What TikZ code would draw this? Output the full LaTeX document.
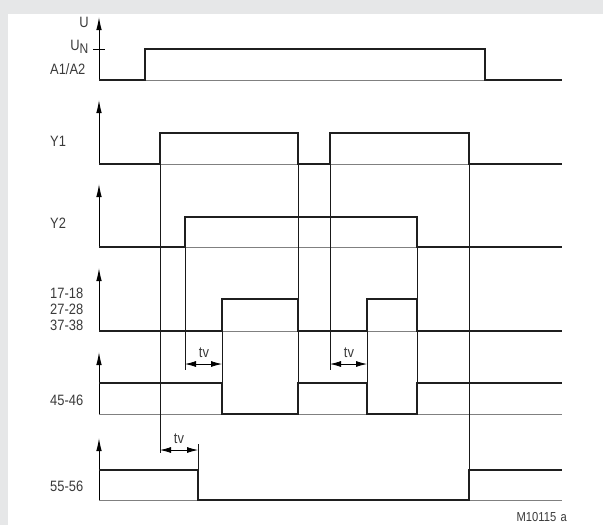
\documentclass[tikz,border=0pt]{standalone}
\usepackage{fontspec}
\setmainfont{Liberation Sans}[FakeStretch=0.86]
\usetikzlibrary{arrows.meta}
\definecolor{bg}{HTML}{E6E7E8}
\definecolor{txt}{HTML}{3A3A3A}
\begin{document}
\begin{tikzpicture}[x=1pt,y=-1pt,
  sig/.style={line width=1.9pt, draw=black!88, line join=miter},
  base/.style={line width=0.9pt, draw=black!50},
  guide/.style={line width=0.8pt, draw=black!90},
  axis/.style={line width=1pt, -{Latex[length=13pt,width=5.5pt]}},
  dimarrow/.style={line width=0.8pt, {Latex[length=11pt,width=6pt]}-{Latex[length=11pt,width=6pt]}},
  lab/.style={font=\fontsize{15}{16}\selectfont, text=txt, inner sep=0pt, anchor=base west},
  tvlab/.style={font=\fontsize{15}{16}\selectfont, text=txt, inner sep=0pt, anchor=base}]
\useasboundingbox (0,0) rectangle (603,525);
\fill[bg] (0,0) rectangle (603,525);
\fill[white] (8,14) rectangle (603,525);

% axes and baselines
\foreach \t/\b in {17/80, 100/164, 184/247, 268/331, 352/414, 438/500}{
  \draw[base] (99,\b) -- (562,\b);
  \draw[axis] (99,\b) coordinate (ax\b) -- (99,\t);
}
\draw[line width=0.8pt] (93,49) -- (105,49);

% guide lines
\draw[guide] (160,133) -- (160,453);
\draw[guide] (185,217) -- (185,370);
\draw[guide] (298,133) -- (298,414);
\draw[guide] (330,133) -- (330,370);
\draw[guide] (222,299) -- (222,414);
\draw[guide] (367,299) -- (367,414);
\draw[guide] (417,217) -- (417,414);
\draw[guide] (469,133) -- (469,500);
\draw[guide] (198,444) -- (198,470);

% signals
\draw[sig] (99,80) -- (145,80) -- (145,49) -- (485,49) -- (485,80) -- (562,80);
\draw[sig] (99,164) -- (160,164) -- (160,133) -- (298,133) -- (298,164) -- (330,164) -- (330,133) -- (469,133) -- (469,164) -- (562,164);
\draw[sig] (99,247) -- (185,247) -- (185,217) -- (417,217) -- (417,247) -- (562,247);
\draw[sig] (99,331) -- (222,331) -- (222,299) -- (298,299) -- (298,331) -- (367,331) -- (367,299) -- (417,299) -- (417,331) -- (562,331);
\draw[sig] (99,383) -- (222,383) -- (222,414) -- (298,414) -- (298,383) -- (367,383) -- (367,414) -- (417,414) -- (417,383) -- (562,383);
\draw[sig] (99,470) -- (198,470) -- (198,500) -- (469,500) -- (469,470) -- (562,470);

% tv dimensions
\coordinate (d1a) at (185,364); \coordinate (d1b) at (222,364);
\coordinate (d2a) at (330,364); \coordinate (d2b) at (367,364);
\coordinate (d3a) at (160,450); \coordinate (d3b) at (198,450);
\draw[dimarrow] (d1a) -- (d1b);
\draw[dimarrow] (d2a) -- (d2b);
\draw[dimarrow] (d3a) -- (d3b);
\node[tvlab] (tv1) at (204,357) {tv};
\node[tvlab] (tv2) at (349,357) {tv};
\node[tvlab] (tv3) at (179,443) {tv};

% labels
\node[lab, anchor=base east] (U) at (89,27) {U};
\node[lab, anchor=base east] (UN) at (88.5,50) {U\raisebox{-3pt}{\fontsize{14}{15}\selectfont N}};
\node[lab] (A) at (50,74) {A1/A2};
\node[lab] (Y1) at (50,146) {Y1};
\node[lab] (Y2) at (50,228) {Y2};
\node[lab] (c1) at (50,298.5) {17-18};
\node[lab] (c2) at (50,314.5) {27-28};
\node[lab] (c3) at (50,330.5) {37-38};
\node[lab] (c4) at (50,405) {45-46};
\node[lab] (c5) at (50,491) {55-56};
\node[font=\fontsize{13}{14}\selectfont, text=txt, inner sep=0pt, anchor=base east] (M) at (567,521) {M10115\,\,a};
\end{tikzpicture}
\end{document}
